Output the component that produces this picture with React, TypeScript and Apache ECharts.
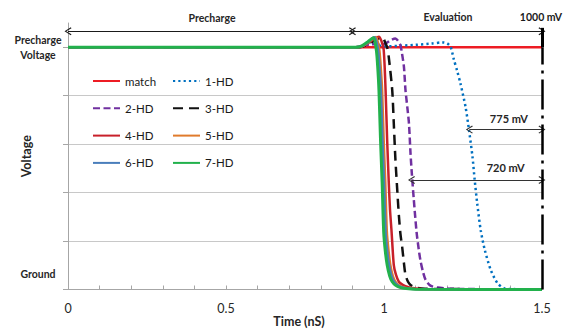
import React, { useEffect, useRef } from 'react';
import * as echarts from 'echarts';

const FONT = "Lato, 'Open Sans', sans-serif";

// Time (nS) / Voltage (mV) pairs
const MATCH = [[0, 1000], [1.5, 1000]];
const HD1 = [[0, 1000], [0.91, 1000], [0.93, 1004], [0.96, 1022], [0.98, 1010], [1.0, 1003], [1.05, 1006], [1.1, 1010], [1.15, 1015], [1.185, 1020], [1.2, 1016], [1.211, 1001], [1.221, 950], [1.232, 900], [1.242, 850], [1.258, 754], [1.269, 658], [1.28, 548], [1.287, 452], [1.295, 355], [1.306, 245], [1.319, 163], [1.338, 80], [1.359, 26], [1.379, 6], [1.4, 2], [1.5, 0]];
const HD2 = [[0, 1000], [0.91, 1000], [0.93, 1003], [0.96, 1012], [0.99, 1012], [1.005, 1015], [1.02, 1028], [1.036, 1036], [1.045, 1025], [1.052, 1008], [1.057, 974], [1.063, 920], [1.068, 823], [1.074, 750], [1.079, 685], [1.084, 560], [1.088, 480], [1.094, 376], [1.103, 238], [1.11, 165], [1.116, 115], [1.124, 70], [1.132, 39], [1.147, 16], [1.17, 8], [1.2, 4], [1.25, 2], [1.5, 0]];
const HD3 = [[0, 1000], [0.91, 1000], [0.93, 1002], [0.96, 1020], [0.985, 1038], [0.995, 1042], [1.005, 1015], [1.01, 1000], [1.015, 960], [1.026, 823], [1.031, 685], [1.036, 540], [1.041, 430], [1.047, 307], [1.052, 230], [1.058, 170], [1.063, 110], [1.068, 60], [1.076, 32], [1.084, 19], [1.1, 8], [1.13, 3], [1.5, 0]];
const HD4 = [[0, 1000], [0.91, 1000], [0.93, 1003], [0.95, 1018], [0.97, 1035], [0.984, 1043], [0.992, 1025], [0.999, 990], [1.005, 823], [1.01, 616], [1.015, 445], [1.019, 330], [1.024, 238], [1.031, 101], [1.038, 60], [1.047, 32], [1.058, 20], [1.068, 14], [1.09, 6], [1.12, 2], [1.5, 0]];
const HD5 = [[0, 1000], [0.91, 1000], [0.93, 1004], [0.95, 1020], [0.965, 1036], [0.975, 1042], [0.985, 990], [0.989, 930], [0.994, 823], [0.999, 616], [1.004, 445], [1.009, 238], [1.014, 165], [1.02, 101], [1.028, 55], [1.036, 32], [1.047, 17], [1.06, 9], [1.08, 4], [1.11, 1], [1.5, 0]];
const HD6 = [[0, 1000], [0.91, 1000], [0.93, 1005], [0.95, 1022], [0.963, 1037], [0.971, 1041], [0.981, 990], [0.985, 930], [0.99, 823], [0.995, 616], [1.0, 445], [1.005, 238], [1.01, 160], [1.016, 101], [1.024, 55], [1.032, 32], [1.043, 17], [1.056, 9], [1.076, 4], [1.105, 1], [1.5, 0]];
const HD7 = [[0, 1000], [0.91, 1000], [0.93, 1006], [0.95, 1024], [0.962, 1036], [0.968, 1039], [0.976, 985], [0.98, 920], [0.984, 823], [0.989, 616], [0.994, 445], [0.999, 238], [1.004, 160], [1.01, 101], [1.018, 55], [1.026, 32], [1.037, 17], [1.05, 9], [1.07, 4], [1.1, 1], [1.5, 0]];

const LEGEND_COL1 = ['match', '2-HD', '4-HD', '6-HD'];
const LEGEND_COL2 = ['1-HD', '3-HD', '5-HD', '7-HD'];

// annotation anchors (data coordinates)
const PHASE_Y = 1066;
const PHASE_SPLIT = 0.9;
const T_END = 1.5;
const ARROW_775 = [[1.27, 660], [1.5, 660]];
const ARROW_720 = [[1.087, 452], [1.5, 452]];
const LABEL_775 = [1.395, 707];
const LABEL_720 = [1.385, 502];
const MARKER_TOP = 1080;

const SERIES_DEF = [
  { name: 'match', data: MATCH, color: '#ed1c24', type: 'solid', width: 2.5 },
  { name: '1-HD', data: HD1, color: '#0070c0', type: [2.2, 3.1], width: 2.5 },
  { name: '2-HD', data: HD2, color: '#7030a0', type: [7, 3.5], width: 2.5 },
  { name: '3-HD', data: HD3, color: '#111111', type: [10, 6], width: 2.5 },
  { name: '4-HD', data: HD4, color: '#c8202a', type: 'solid', width: 2.5 },
  { name: '5-HD', data: HD5, color: '#e07b2c', type: 'solid', width: 2.5 },
  { name: '6-HD', data: HD6, color: '#4a7ebb', type: 'solid', width: 2.5 },
  { name: '7-HD', data: HD7, color: '#22b14c', type: 'solid', width: 3 },
];

const CHEVRON = 'path://M5,0 L10,9 L8.8,10 L5,2.6 L1.2,10 L0,9 Z';

function buildOption() {
  const series: any[] = SERIES_DEF.map((s) => ({
    name: s.name,
    type: 'line',
    data: s.data,
    showSymbol: false,
    symbol: 'none',
    smooth: 0.25,
    color: s.color,
    lineStyle: { color: s.color, width: s.width, type: s.type },
    emphasis: { disabled: true },
    silent: true,
  }));

  series.push({
    name: 'annot',
    type: 'line',
    data: [],
    silent: true,
    markLine: {
      silent: true,
      animation: false,
      symbol: [CHEVRON, CHEVRON],
      symbolSize: [8, 7],
      label: { show: false },
      emphasis: { disabled: true },
      lineStyle: { color: '#1a1a1a', width: 1, type: 'solid' },
      data: [
        [{ coord: [0, PHASE_Y] }, { coord: [PHASE_SPLIT, PHASE_Y] }],
        [{ coord: [PHASE_SPLIT, PHASE_Y] }, { coord: [T_END, PHASE_Y] }],
        [{ coord: ARROW_775[0], lineStyle: { color: '#333', width: 1.2 } }, { coord: ARROW_775[1] }],
        [{ coord: ARROW_720[0], lineStyle: { color: '#333', width: 1.2 } }, { coord: ARROW_720[1] }],
        [
          { coord: [T_END, 1000], symbol: 'none', lineStyle: { color: '#000', width: 3, type: 'solid' } },
          { coord: [T_END, MARKER_TOP], symbol: 'none' },
        ],
        [
          { coord: [T_END, 0], symbol: 'none', lineStyle: { color: '#000', width: 2.5, type: [30, 6, 3, 6] } },
          { coord: [T_END, 1000], symbol: 'none' },
        ],
      ],
    },
    markPoint: {
      silent: true,
      animation: false,
      symbol: 'circle',
      symbolSize: 0,
      label: {
        show: true,
        formatter: '{b}',
        fontFamily: FONT,
        fontWeight: 'bold',
        fontSize: 11,
        color: '#262626',
      },
      data: [
        { name: '775 mV', coord: LABEL_775 },
        { name: '720 mV', coord: LABEL_720 },
      ],
    },
  });

  const legendBase = {
    orient: 'vertical',
    top: 70,
    itemWidth: 27,
    itemHeight: 14,
    itemGap: 15.3,
    selectedMode: false,
    itemStyle: { opacity: 0 },
    textStyle: { fontFamily: FONT, fontSize: 11.5, color: '#1a1a1a' },
  };

  return {
    animation: false,
    backgroundColor: '#ffffff',
    textStyle: { fontFamily: FONT },
    grid: { left: 68, right: 23, top: 23, bottom: 39.5, containLabel: false, outerBoundsMode: 'none' },
    legend: [
      { ...legendBase, left: 87, data: LEGEND_COL1 },
      { ...legendBase, left: 167, data: LEGEND_COL2 },
    ],
    xAxis: {
      type: 'value',
      min: 0,
      max: 1.5,
      interval: 0.1,
      name: 'Time (nS)',
      nameLocation: 'middle',
      nameGap: 25,
      nameMoveOverlap: false,
      nameTextStyle: { fontFamily: FONT, fontWeight: 'bold', fontSize: 12.5, color: '#262626', padding: [0, 12, 0, 0] },
      axisLine: { show: true, lineStyle: { color: '#a6a6a6', width: 1 } },
      axisTick: { show: true, inside: true, length: 4, lineStyle: { color: '#a6a6a6' } },
      splitLine: { show: false },
      axisLabel: {
        margin: 12,
        fontFamily: FONT,
        fontSize: 12.5,
        color: '#262626',
        formatter: (v: number) => (Math.abs(v * 2 - Math.round(v * 2)) < 1e-6 ? String(Math.round(v * 10) / 10) : ''),
      },
    },
    yAxis: {
      type: 'value',
      min: 0,
      max: 1100,
      interval: 200,
      name: 'Voltage',
      nameLocation: 'middle',
      nameGap: 35,
      nameMoveOverlap: false,
      nameTextStyle: { fontFamily: FONT, fontWeight: 'bold', fontSize: 12.5, color: '#262626' },
      axisLine: { show: true, lineStyle: { color: '#a6a6a6', width: 1 } },
      axisTick: { show: true, length: 5, lineStyle: { color: '#a6a6a6' } },
      splitLine: { show: true, showMinLine: false, showMaxLine: false, lineStyle: { color: '#c8c8c8', width: 1 } },
      axisLabel: {
        showMaxLabel: false,
        margin: 30,
        align: 'center',
        formatter: (v: number) =>
          v === 1000 ? '{p|Precharge}\n{p|Voltage}' : v === 0 ? '{g|Ground}' : '',
        rich: {
          p: { fontFamily: FONT, fontWeight: 'bold', fontSize: 10.5, lineHeight: 15, color: '#262626', align: 'center' },
          g: { fontFamily: FONT, fontWeight: 'bold', fontSize: 10.5, color: '#262626', align: 'center', padding: [0, 0, 31, 0] },
        },
      },
    },
    graphic: [
      { type: 'text', x: 212, y: 18, silent: true, style: { text: 'Precharge', fontFamily: FONT, fontWeight: 'bold', fontSize: 10.5, fill: '#262626', align: 'center', verticalAlign: 'middle' } },
      { type: 'text', x: 448, y: 17, silent: true, style: { text: 'Evaluation', fontFamily: FONT, fontWeight: 'bold', fontSize: 10.5, fill: '#262626', align: 'center', verticalAlign: 'middle' } },
      { type: 'text', x: 541, y: 17, silent: true, style: { text: '1000 mV', fontFamily: FONT, fontWeight: 'bold', fontSize: 10.5, fill: '#1a1a1a', align: 'center', verticalAlign: 'middle' } },
    ],
    series,
  };
}

export default function App() {
  const ref = useRef<HTMLDivElement>(null);
  useEffect(() => {
    document.body.style.margin = '0';
    const chart = echarts.init(ref.current!, null, { renderer: 'svg' });
    chart.setOption(buildOption() as any);
    return () => chart.dispose();
  }, []);
  return <div ref={ref} style={{ width: 565, height: 329, background: '#fff' }} />;
}
